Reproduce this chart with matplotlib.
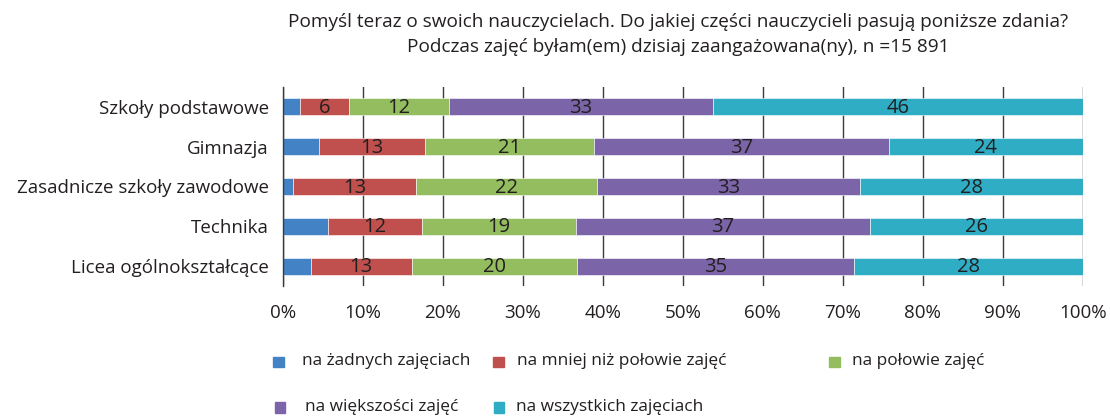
import numpy as np
import matplotlib.pyplot as plt
from matplotlib.patches import Rectangle

plt.rcParams['font.family'] = ['Open Sans', 'DejaVu Sans']

categories = ["Szkoły podstawowe", "Gimnazja", "Zasadnicze szkoły zawodowe",
              "Technika", "Licea ogólnokształcące"]
series = ["na żadnych zajęciach", "na mniej niż połowie zajęć", "na połowie zajęć",
          "na większości zajęć", "na wszystkich zajęciach"]

# segment widths (%)
none_ = [2.2, 4.5, 1.3, 5.6, 3.5]
less_half = [6.1, 13.3, 15.4, 11.8, 12.6]
half = [12.5, 21.1, 22.6, 19.3, 20.7]
most = [33.0, 36.9, 32.9, 36.7, 34.6]
all_ = [46.2, 24.2, 27.8, 26.6, 28.6]

# numbers printed on the segments (first series has none)
lab_less_half = [6, 13, 13, 12, 13]
lab_half = [12, 21, 22, 19, 20]
lab_most = [33, 37, 33, 37, 35]
lab_all = [46, 24, 28, 26, 28]

colors = ["#4382C4", "#C0504D", "#93BD5E", "#7B64A7", "#2EADC4"]

values = [none_, less_half, half, most, all_]
labels = [None, lab_less_half, lab_half, lab_most, lab_all]

fig = plt.figure(figsize=(11.1, 4.18), dpi=100)
ax = fig.add_axes([0.2547, 0.3158, 0.7207, 0.4761])

y = np.arange(len(categories))
left = np.zeros(len(categories))
for vals, labs, c in zip(values, labels, colors):
    vals = np.array(vals)
    ax.barh(y, vals, left=left, height=0.43, color=c, edgecolor="white",
            linewidth=0.4, zorder=2)
    if labs is not None:
        for yi, l, v, t in zip(y, left, vals, labs):
            ax.text(l + v / 2, yi + 0.03, str(t), ha="center", va="center",
                    fontsize=14.5, color="#231f20", zorder=3)
    left += vals

ax.set_xlim(0, 100)
ax.set_ylim(len(categories) - 0.5, -0.5)
ax.set_yticks(y)
ax.set_yticklabels(categories, fontsize=13.5, color="#231f20")
ax.set_xticks(np.arange(0, 101, 10))
ax.set_xticklabels([f"{v}%" for v in range(0, 101, 10)], fontsize=13.5, color="#231f20")
ax.tick_params(axis="both", length=0)
ax.tick_params(axis="x", pad=13)
ax.tick_params(axis="y", pad=10)
ax.grid(axis="x", color="#3a3a3a", linewidth=1.0, zorder=0)
ax.set_axisbelow(True)
for s in ["top", "right", "bottom"]:
    ax.spines[s].set_visible(False)
ax.spines["left"].set_color("#3a3a3a")
ax.spines["left"].set_linewidth(1.0)

fig.text(0.611, 0.947, "Pomyśl teraz o swoich nauczycielach. Do jakiej części nauczycieli pasują poniższe zdania?",
         ha="center", va="center", fontsize=13.7, color="#231f20")
fig.text(0.611, 0.888, "Podczas zajęć byłam(em) dzisiaj zaangażowana(ny), n =15 891",
         ha="center", va="center", fontsize=13.7, color="#231f20")

# legend, placed by hand in pixel positions
W, H = 1110, 418
leg_pos = [(278.5, 362, 302, 361), (498.5, 362, 517, 361), (834.5, 362, 852, 361),
           (280, 407.5, 305, 407), (499, 407.5, 516, 407)]
sq = 10.5
for (sx, sy, tx, ty), name, c in zip(leg_pos, series, colors):
    fig.patches.append(Rectangle(((sx - sq / 2) / W, 1 - (sy + sq / 2) / H), sq / W, sq / H,
                                 transform=fig.transFigure, color=c))
    fig.text(tx / W, 1 - ty / H, name, ha="left", va="center", fontsize=12.4, color="#231f20")

fig.savefig("out.png", dpi=100)
